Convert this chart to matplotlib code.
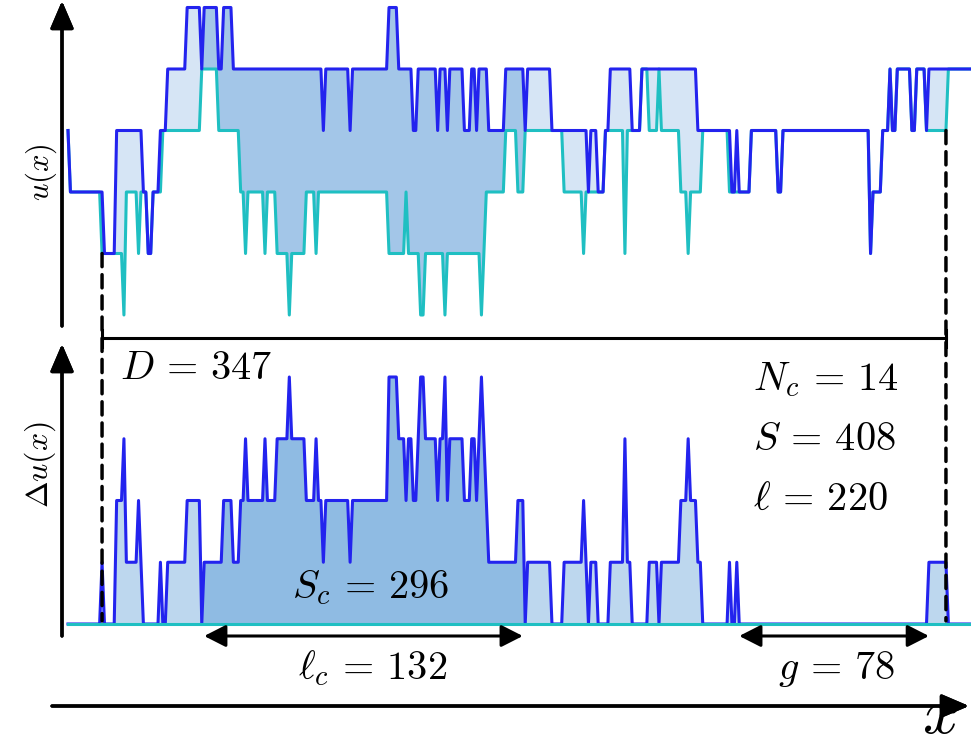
import numpy as np
import matplotlib.pyplot as plt
from matplotlib.patches import ConnectionPatch

plt.rcParams['mathtext.fontset'] = 'cm'

# Nombre de points du signal
N = 372

# Signal bleu : indice de début de palier -> niveau
blue_start = [0, 1, 15, 20, 31, 33, 35, 38, 41, 49,
              55, 56, 62, 64, 68, 105, 106, 116, 117, 132,
              136, 142, 144, 152, 153, 156, 157, 163, 166, 168,
              169, 173, 180, 188, 189, 199, 214, 215, 218, 221,
              223, 232, 236, 259, 273, 275, 276, 281, 292, 294,
              330, 331, 335, 338, 339, 341, 347, 349, 353, 354]
blue_level = [3, 2, 1, 3, 2, 1, 2, 3, 4, 5,
              4, 5, 4, 5, 4, 3, 4, 3, 4, 5,
              4, 3, 4, 3, 4, 3, 4, 3, 4, 3,
              4, 3, 4, 3, 4, 3, 2, 3, 2, 3,
              4, 3, 4, 3, 2, 3, 2, 3, 2, 3,
              1, 2, 3, 4, 3, 4, 3, 4, 3, 4]

# Signal cyan
cyan_start = [0, 1, 14, 23, 24, 29, 30, 33, 35, 39,
              55, 62, 71, 73, 74, 81, 82, 86, 91, 92,
              98, 102, 103, 132, 139, 140, 145, 147, 155, 156,
              170, 171, 172, 180, 185, 188, 204, 212, 213, 221,
              229, 230, 236, 239, 243, 244, 252, 255, 256, 261,
              272, 281, 292, 294, 330, 331, 335, 338, 339, 341,
              347, 349, 353, 362]
cyan_level = [3, 2, 1, 0, 2, 1, 2, 1, 2, 3,
              4, 3, 2, 1, 2, 1, 2, 1, 0, 1,
              2, 1, 2, 1, 2, 1, 0, 1, 0, 1,
              0, 1, 2, 3, 2, 3, 2, 1, 2, 3,
              1, 3, 4, 3, 4, 3, 2, 1, 2, 3,
              2, 3, 2, 3, 1, 2, 3, 4, 3, 4,
              3, 4, 3, 4]

labels = {
    'D': r'$D\,=\,347$',
    'Nc': r'$N_c\,=\,14$',
    'S': r'$S\,=\,408$',
    'l': r'$\ell\,=\,220$',
    'Sc': r'$S_c\,=\,296$',
    'lc': r'$\ell_c\,=\,132$',
    'g': r'$g\,=\,78$',
}

BLUE = '#2323ee'
CYAN = '#1fbfc2'
TOP_LIGHT = '#d6e5f5'
TOP_DARK = '#a3c6e8'
BOT_LIGHT = '#bdd7ee'
BOT_DARK = '#8fbbe3'

W, H = 971, 749


def fx(px):
    return px / W


def fy(py):
    return 1 - py / H


def expand(starts, levels):
    reps = np.diff(starts + [N])
    return np.repeat(levels, reps)


x = np.arange(N)
u_blue = expand(blue_start, blue_level)
u_cyan = expand(cyan_start, cyan_level)
du = np.abs(u_blue - u_cyan)

# Amas (clusters) : suites de du > 0
nz = (du > 0).astype(int)
edges = np.diff(np.concatenate([[0], nz, [0]]))
c_starts = np.where(edges == 1)[0]
c_ends = np.where(edges == -1)[0] - 1
areas = [du[s:e + 1].sum() for s, e in zip(c_starts, c_ends)]
k = int(np.argmax(areas))
c0, c1 = c_starts[k], c_ends[k]
i0, i1 = c_starts[0], c_ends[-1]
gaps = c_starts[1:] - c_ends[:-1]
kg = int(np.argmax(gaps))
g0, g1 = c_ends[kg] + 1, c_starts[kg + 1]

in_big = (x >= c0) & (x <= c1)
edge = (x == c0 - 1) | (x == c1 + 1)

fig = plt.figure(figsize=(W / 100, H / 100), dpi=100)

# échelle : px = 68 + 2.432 * i
xlim = (-68 / 2.432, (W - 68) / 2.432)

ax_top = fig.add_axes([0, fy(330), 1, 330 / H])
ax_top.set_xlim(*xlim)
ax_top.set_ylim((315 - 330) / 61.5, 315 / 61.5)
ax_top.axis('off')

ax_bot = fig.add_axes([0, 0, 1, fy(330)])
ax_bot.set_xlim(*xlim)
ax_bot.set_ylim((624 - H) / 61.75, (624 - 330) / 61.75)
ax_bot.axis('off')

# Panneau du haut
ax_top.fill_between(x, u_blue, u_cyan, where=~in_big | edge,
                    color=TOP_LIGHT, lw=0, zorder=1)
ax_top.fill_between(x, u_blue, u_cyan, where=in_big | edge,
                    color=TOP_DARK, lw=0, zorder=1)
ax_top.plot(x, u_cyan, color=CYAN, lw=2.2, zorder=2)
ax_top.plot(x, u_blue, color=BLUE, lw=2.2, zorder=3)

# Panneau du bas
ax_bot.fill_between(x, 0, du, where=~in_big | edge,
                    color=BOT_LIGHT, lw=0, zorder=1)
ax_bot.fill_between(x, 0, du, where=in_big | edge,
                    color=BOT_DARK, lw=0, zorder=1)
ax_bot.plot(x, du, color=BLUE, lw=2.2, zorder=2)
ax_bot.plot(x, np.zeros(N), color=CYAN, lw=2.2, zorder=3)

# Lignes pointillées verticales
for i in (i0, i1):
    con = ConnectionPatch(xyA=(i, min(u_blue[i], u_cyan[i])), coordsA=ax_top.transData,
                          xyB=(i, 0.05), coordsB=ax_bot.transData,
                          color='k', lw=2.5, linestyle=(0, (3.8, 2.3)), zorder=5)
    fig.add_artist(con)

# Barre D
yD = (624 - 338) / 61.75
ax_bot.plot([i0, i1], [yD, yD], color='k', lw=2.2, clip_on=False, zorder=5)
for i in (i0, i1):
    ax_bot.plot([i, i], [yD - 0.14, yD + 0.13], color='k', lw=2.2, clip_on=False, zorder=5)

# Flèches l_c et g
yA = (624 - 636) / 61.75
arr = dict(arrowstyle='<|-|>,head_length=0.55,head_width=0.28', lw=2.2, color='k',
           shrinkA=0, shrinkB=0, mutation_scale=24)
ax_bot.annotate('', xy=(c0, yA), xytext=(c1, yA), arrowprops=arr)
ax_bot.annotate('', xy=(g0, yA), xytext=(g1, yA), arrowprops=arr)

# Axes (flèches)
ax_arr = dict(arrowstyle='-|>,head_length=0.7,head_width=0.3', lw=2.4, color='k',
              shrinkA=0, shrinkB=0, mutation_scale=24)
fig.add_artist(plt.annotate('', xy=(fx(62), fy(1)), xytext=(fx(62), fy(326)),
                            xycoords='figure fraction', textcoords='figure fraction',
                            arrowprops=ax_arr))
fig.add_artist(plt.annotate('', xy=(fx(62), fy(344)), xytext=(fx(62), fy(636)),
                            xycoords='figure fraction', textcoords='figure fraction',
                            arrowprops=ax_arr))
fig.add_artist(plt.annotate('', xy=(fx(969), fy(706)), xytext=(fx(52), fy(706)),
                            xycoords='figure fraction', textcoords='figure fraction',
                            arrowprops=ax_arr))

# Textes
fs = 29
fig.text(fx(120), fy(379), labels['D'], fontsize=fs, ha='left', va='baseline')
fig.text(fx(753), fy(390), labels['Nc'], fontsize=fs, ha='left', va='baseline')
fig.text(fx(753), fy(450), labels['S'], fontsize=fs, ha='left', va='baseline')
fig.text(fx(753), fy(510), labels['l'], fontsize=fs, ha='left', va='baseline')
fig.text(fx(292), fy(598), labels['Sc'], fontsize=fs, ha='left', va='baseline', zorder=6)
fig.text(fx(298), fy(679), labels['lc'], fontsize=fs, ha='left', va='baseline')
fig.text(fx(778), fy(679), labels['g'], fontsize=fs, ha='left', va='baseline')
fig.text(fx(940), fy(733), r'$x$', fontsize=46, ha='center', va='baseline')
fig.text(fx(41), fy(172), r'$u(x)$', fontsize=22, ha='center', va='center', rotation=90)
fig.text(fx(40), fy(465), r'$\Delta u(x)$', fontsize=23, ha='center', va='center', rotation=90)

fig.savefig('out.png', dpi=100)
